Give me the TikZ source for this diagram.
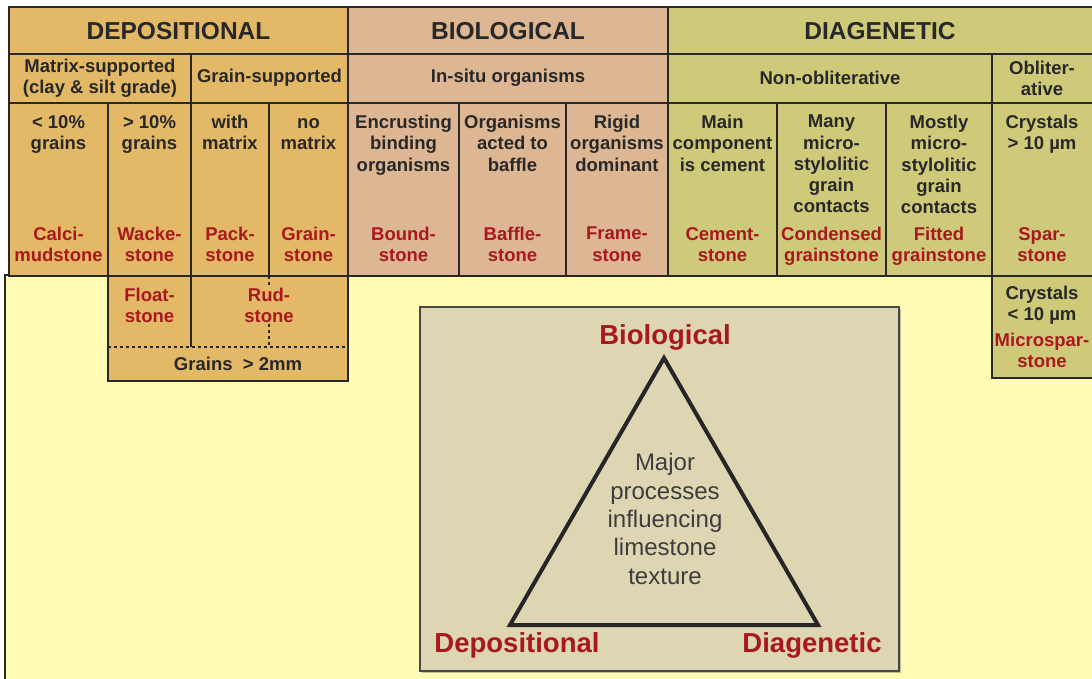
\documentclass[tikz,border=0pt]{standalone}
\usepackage{fontspec}
\setmainfont{Liberation Sans}
\usepackage{tikz}
\usetikzlibrary{shadows}
\definecolor{depo}{RGB}{227,184,102}
\definecolor{bio}{RGB}{221,183,147}
\definecolor{diag}{RGB}{207,201,122}
\definecolor{paper}{RGB}{255,251,180}
\definecolor{tribox}{RGB}{222,213,179}
\definecolor{rockred}{RGB}{168,24,30}
\definecolor{ink}{RGB}{40,40,40}
\tikzstyle{frame} = [line width=2pt, draw=ink]
\tikzstyle{rule} = [line width=1.2pt, draw=ink]
\tikzstyle{head} = [font=\fontsize{24.5}{27}\selectfont\bfseries, text=ink, inner sep=0pt]
\tikzstyle{sub} = [font=\fontsize{18.5}{21.2}\selectfont\bfseries, text=ink, align=center, inner sep=0pt]
\tikzstyle{desc} = [sub, anchor=north]
\tikzstyle{rock} = [desc, text=rockred]
\tikzstyle{corner} = [font=\fontsize{27.5}{30}\selectfont\bfseries, text=rockred, inner sep=0pt]

\begin{document}
\begin{tikzpicture}[x=1pt, y=-1pt]
     \useasboundingbox (0, 0) rectangle (1092, 679);
     \filldraw[fill = paper, frame] (5, 275) rectangle (1110, 700);
     \fill[fill = depo] (9, 7) rectangle (348, 276);
     \fill[fill = bio] (348, 7) rectangle (668, 276);
     \fill[fill = diag] (668, 7) rectangle (1110, 276);
     \filldraw[fill = depo, frame] (108, 276) rectangle (348, 381);
     \filldraw[fill = diag, frame] (992, 276) rectangle (1110, 378);
     \draw[rule] (9, 54) -- (1110, 54);
     \draw[rule] (9, 103) -- (1110, 103);
     \draw[rule] (191, 54) -- (191, 276);
     \draw[rule] (992, 54) -- (992, 276);
     \foreach \x in {108, 269, 459, 566, 777, 886}
          \draw[rule] (\x, 103) -- (\x, 276);
     \draw[frame] (348, 7) -- (348, 276);
     \draw[frame] (668, 7) -- (668, 276);
     \draw[frame] (9, 7) rectangle (1110, 276);
     \draw[rule] (191, 276) -- (191, 347);
     \draw[rule, dashed] (108, 347) -- (348, 347);
     \draw[rule, dashed] (269, 276) -- (269, 347);

     \node (depohead) at (178.5, 31) [head] {DEPOSITIONAL};
     \node (biohead) at (508, 31) [head] {BIOLOGICAL};
     \node (diaghead) at (880, 31) [head] {DIAGENETIC};

     \node (matrix) at (100, 78) [sub] {Matrix-supported\\(clay \& silt grade)};
     \node (grainsup) at (269.5, 78) [sub] {Grain-supported};
     \node (insitu) at (508, 78) [sub] {In-situ organisms};
     \node (nonobl) at (830, 78) [sub] {Non-obliterative};
     \node (obl) at (1042, 78) [sub] {Obliter-\\ative};

     \node (lessgrains) at (58.5, 115) [desc] {< 10\%\\grains};
     \node (moregrains) at (149.5, 115) [desc] {> 10\%\\grains};
     \node (withmatrix) at (230, 115) [desc] {with\\matrix};
     \node (nomatrix) at (308.5, 115) [desc] {\vphantom{h}no\\matrix};
     \node (encrust) at (403.5, 115) [desc] {Encrusting\\binding\\organisms};
     \node (baffle) at (512.5, 115) [desc] {Organisms\\acted to\\baffle};
     \node (rigid) at (617, 115) [desc] {Rigid\\organisms\\dominant};
     \node (cement) at (722.5, 115) [desc] {Main\\component\\is cement};
     \node (many) at (831.5, 115) [desc] {Many\\micro-\\stylolitic\\grain\\contacts};
     \node (mostly) at (939, 115) [desc] {Mostly\\micro-\\stylolitic\\grain\\contacts};
     \node (coarse) at (1042, 115) [desc] {Crystals\\> 10 µm};

     \node (calci) at (58.5, 227) [rock] {Calci-\\mudstone};
     \node (wacke) at (149.5, 227) [rock] {Wacke-\\stone};
     \node (pack) at (230, 227) [rock] {Pack-\\stone};
     \node (grainst) at (308.5, 227) [rock] {Grain-\\stone};
     \node (bound) at (403.5, 227) [rock] {Bound-\\stone};
     \node (bafflest) at (512.5, 227) [rock] {Baffle-\\stone};
     \node (frame) at (617, 227) [rock] {Frame-\\stone};
     \node (cementst) at (722.5, 227) [rock] {Cement-\\stone};
     \node (condensed) at (831.5, 227) [rock] {Condensed\\grainstone};
     \node (fitted) at (939, 227) [rock] {Fitted\\grainstone};
     \node (spar) at (1042, 227) [rock] {Spar-\\stone};

     \node (float) at (149.5, 288) [rock] {Float-\\stone};
     \node (rud) at (269, 288) [rock, fill = depo] {Rud-\\stone};
     \node (coarsegrains) at (238, 364) [sub] {Grains\ \ > 2mm};

     \node (fine) at (1042, 285.5) [desc] {Crystals\\< 10 µm};
     \node (microspar) at (1042, 333) [rock] {Microspar-\\stone};

     \node (tribox) at (659.5, 489) [rectangle, draw = ink!85, line width = 1.2pt, fill = tribox,
           minimum width = 479pt, minimum height = 364pt,
           drop shadow = {shadow xshift = 1.5pt, shadow yshift = -1.5pt, opacity = 0.5}] {};
     \coordinate (apex) at (664, 358);
     \coordinate (botleft) at (510, 625);
     \coordinate (botright) at (818, 625);
     \draw[line width = 4pt, draw = ink!95!black] (apex) -- (botright) -- (botleft) -- cycle;
     \node (biolabel) at (665, 337) [corner] {Biological};
     \node (depolabel) at (517, 645) [corner] {Depositional};
     \node (diaglabel) at (812, 645) [corner] {Diagenetic};
     \node (major) at (665, 519) [align = center, font = \fontsize{24}{28.3}\selectfont, text = ink!90, inner sep = 0pt]
           {Major\\processes\\influencing\\limestone\\texture};
\end{tikzpicture}
\end{document}
